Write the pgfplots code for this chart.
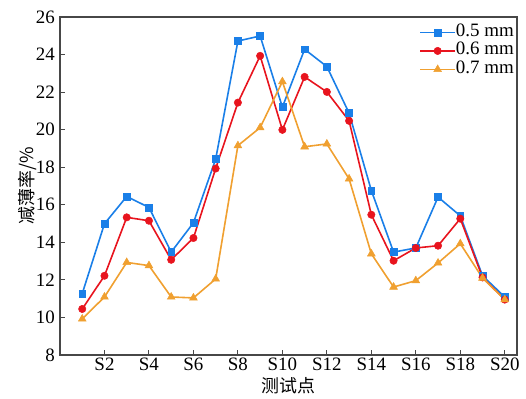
\documentclass[border=0pt]{standalone}
\usepackage{pgfplots}
\pgfplotsset{compat=1.18}
\usepackage{fontspec}
\setmainfont{Liberation Serif}
\newfontfamily\cjk{Noto Sans CJK SC}
\definecolor{cblue}{HTML}{1A7FE8}
\definecolor{cred}{HTML}{E8141E}
\definecolor{corange}{HTML}{F0A030}
\begin{document}
\begin{tikzpicture}[x=1bp,y=1bp]
\begin{axis}[
  name=ax,
  scale only axis,
  width=457bp, height=338bp,
  xmin=0, xmax=20.55, ymin=8, ymax=26,
  xtick={2,4,...,20},
  xticklabels={S2,S4,S6,S8,S10,S12,S14,S16,S18,S20},
  ytick={8,10,...,26},
  tick align=inside,
  xtick pos=bottom, ytick pos=left,
  major tick length=5bp,
  axis line style={line width=1.1bp, black!72},
  tick style={line width=1bp, black!72},
  /pgf/number format/assume math mode=true,
  tick label style={font=\fontsize{19}{19}\selectfont},
  xticklabel style={inner sep=1bp, yshift=-2bp},
  yticklabel style={inner sep=2bp, xshift=-3bp},
  xlabel={\cjk 测试点},
  ylabel={\cjk 减薄率/\%},
  xlabel style={font=\fontsize{18}{18}\selectfont, inner sep=0pt, yshift=-5bp},
  ylabel style={font=\fontsize{18}{18}\selectfont, inner sep=0pt, yshift=-3bp},
  legend style={draw=none, fill=none, at={(1,1)}, anchor=north east,
    xshift=-3bp, yshift=-6bp,
    font=\fontsize{19}{19}\selectfont, row sep=0pt, inner sep=0pt,
    nodes={inner sep=0pt, text height=13bp, text depth=5.5bp},
    /tikz/every even column/.append style={column sep=2bp}},
  legend cell align=left,
  legend image code/.code={\draw[line width=1.6bp, mark repeat=2, mark phase=2]
    plot coordinates {(0bp,0bp) (17.5bp,0bp) (35bp,0bp)};},
]
\addplot[cblue, line width=1.6bp, mark=square*, mark size=3.4bp,
  mark options={line width=0.5bp}] coordinates {
 (1,11.27) (2,14.99) (3,16.44) (4,15.86) (5,13.48) (6,15.04) (7,18.43)
 (8,24.72) (9,24.99) (10,21.20) (11,24.28) (12,23.36) (13,20.88) (14,16.76)
 (15,13.48) (16,13.70) (17,16.41) (18,15.41) (19,12.22) (20,11.09)};
\addlegendentry{0.5 mm}
\addplot[cred, line width=1.6bp, mark=*, mark size=3.7bp,
  mark options={line width=0.5bp}] coordinates {
 (1,10.45) (2,12.22) (3,15.33) (4,15.15) (5,13.07) (6,14.23) (7,17.93)
 (8,21.44) (9,23.93) (10,19.99) (11,22.81) (12,22.01) (13,20.47) (14,15.47)
 (15,13.02) (16,13.70) (17,13.82) (18,15.26) (19,12.13) (20,10.95)};
\addlegendentry{0.6 mm}
\addplot[corange, line width=1.6bp, mark=triangle*, mark size=4.5bp,
  mark options={line width=0.5bp}] coordinates {
 (1,9.92) (2,11.09) (3,12.93) (4,12.76) (5,11.09) (6,11.04) (7,12.05)
 (8,19.15) (9,20.11) (10,22.56) (11,19.09) (12,19.24) (13,17.38) (14,13.39)
 (15,11.62) (16,11.96) (17,12.90) (18,13.93) (19,12.10) (20,10.95)};
\addlegendentry{0.7 mm}
\end{axis}
% page margins around the plot frame
\path ([shift={(-60bp,-44bp)}]ax.south west) rectangle ([shift={(9bp,17bp)}]ax.north east);
\end{tikzpicture}
\end{document}
